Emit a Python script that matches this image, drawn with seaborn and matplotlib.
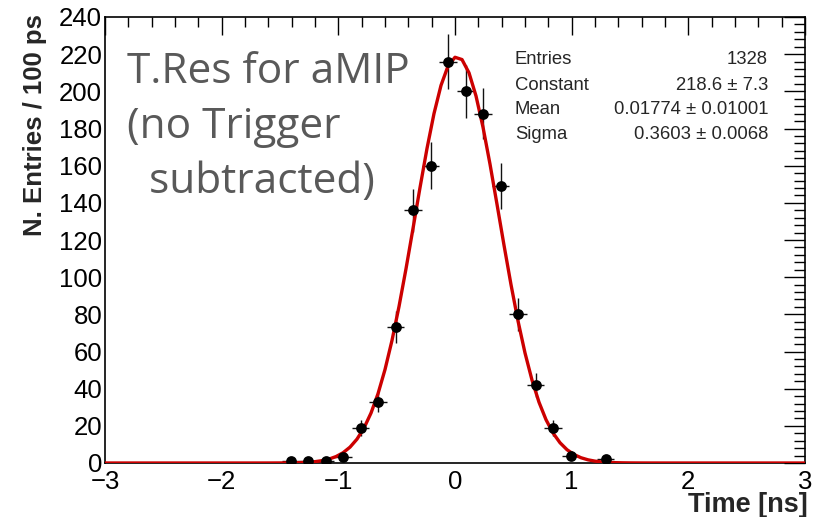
import numpy as np
import pandas as pd
import matplotlib
matplotlib.use("Agg")
import matplotlib.pyplot as plt
import seaborn as sns
from matplotlib.ticker import MultipleLocator

# ---- data ----
bin_centers = [-1.41, -1.26, -1.11, -0.96, -0.81, -0.66, -0.51, -0.36, -0.21, -0.06,
               0.09, 0.24, 0.39, 0.54, 0.69, 0.84, 0.99, 1.29]
counts = [1, 1, 1, 3, 19, 33, 73, 136, 160, 216, 200, 188, 149, 80, 42, 19, 4, 2]
bin_half_width = 0.075

# fit parameters (as printed in the stats box)
fit_constant = 218.6
fit_mean = 0.01774
fit_sigma = 0.3603

stat_names = ["Entries", "Constant", "Mean", "Sigma"]
stat_values = ["1328", "218.6 \u00b1 7.3", "0.01774 \u00b1 0.01001", "0.3603 \u00b1 0.0068"]

overlay_lines = ["T.Res for aMIP", "(no Trigger", "  subtracted)"]

x_ticks = [-3, -2, -1, 0, 1, 2, 3]
y_ticks = list(range(0, 241, 20))

# ---- build frames ----
df = pd.DataFrame({"t": bin_centers, "n": counts})
df["err"] = np.sqrt(df["n"])
fit_x = np.linspace(-3, 3, 101)
fit_df = pd.DataFrame({"t": fit_x,
                       "f": fit_constant * np.exp(-0.5 * ((fit_x - fit_mean) / fit_sigma) ** 2)})

sns.set_theme(style="white")
plt.rcParams["font.family"] = ["Liberation Sans", "DejaVu Sans"]

fig = plt.figure(figsize=(8.16, 5.17), dpi=100)
ax = fig.add_axes([105 / 816, 1 - 463 / 517, 700 / 816, 446 / 517])

# error bars
ax.errorbar(df["t"], df["n"], xerr=bin_half_width, yerr=df["err"], fmt="none",
            ecolor="#111111", elinewidth=1.0, capsize=0, zorder=2)
# fit curve
sns.lineplot(data=fit_df, x="t", y="f", ax=ax, color="#cc0000", linewidth=2.4,
             zorder=3, legend=False)
# markers
sns.scatterplot(data=df, x="t", y="n", ax=ax, color="black", s=60,
                edgecolor="black", linewidth=0, zorder=4, legend=False)

ax.set_xlim(-3, 3)
ax.set_ylim(0, 240)
ax.set_xticks(x_ticks)
ax.set_yticks(y_ticks)
ax.xaxis.set_minor_locator(MultipleLocator(0.2))
ax.yaxis.set_minor_locator(MultipleLocator(4))
ax.tick_params(axis="both", which="both", direction="in", top=True, right=True,
               labelsize=18.5, colors="black")
ax.tick_params(axis="x", which="major", length=13, width=1.0, pad=5)
ax.tick_params(axis="x", which="minor", length=7, width=1.0)
ax.tick_params(axis="y", which="major", length=15, width=1.0, pad=2)
ax.tick_params(axis="y", which="minor", length=8, width=1.0)
for sp in ax.spines.values():
    sp.set_color("black")
    sp.set_linewidth(1.2)

ax.set_xlabel("")
ax.set_ylabel("")
fig.text(808 / 816, 1 - 505 / 517, "Time [ns]", ha="right", va="center",
         fontsize=19.5, fontweight="bold")
fig.text(35 / 816, 1 - 14 / 517, "N. Entries / 100 ps", ha="center", va="top",
         rotation=90, fontsize=18.5, fontweight="bold")

# stats box text
row_y = [59, 85, 110, 135]
for name, val, yy in zip(stat_names, stat_values, row_y):
    fig.text(515 / 816, 1 - yy / 517, name, ha="left", va="center", fontsize=13.3)
    fig.text(768 / 816, 1 - yy / 517, val, ha="right", va="center", fontsize=13.3)

# overlay annotation
line_y = [72, 127, 182]
for txt, yy in zip(overlay_lines, line_y):
    fig.text(127 / 816, 1 - yy / 517, txt, ha="left", va="center", fontsize=30.5,
             color="#595959", family=["Open Sans", "DejaVu Sans"])

fig.savefig("out.png", dpi=100)
